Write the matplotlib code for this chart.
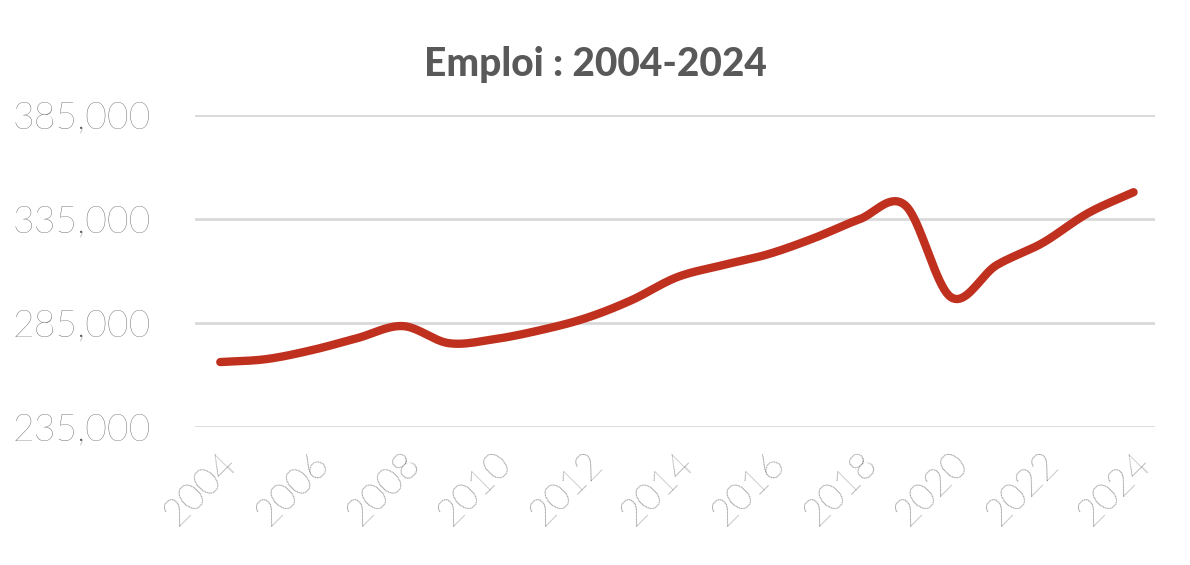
import numpy as np
import matplotlib
matplotlib.use("Agg")
import matplotlib.pyplot as plt
from matplotlib.ticker import FuncFormatter

years = list(range(2004, 2025))
emploi = [266300, 267700, 272000, 277800, 283600, 275400, 277300, 281600, 287400,
          296000, 307100, 312900, 318200, 325900, 335000, 341700, 297500, 312900,
          323500, 337900, 348000]
yticks = [235000, 285000, 335000, 385000]
xticks = list(range(2004, 2025, 2))

def catmull(x, y, n=20):
    x = np.asarray(x, float); y = np.asarray(y, float)
    px = np.concatenate([[2*x[0]-x[1]], x, [2*x[-1]-x[-2]]])
    py = np.concatenate([[2*y[0]-y[1]], y, [2*y[-1]-y[-2]]])
    xs, ys = [], []
    t = np.linspace(0, 1, n, endpoint=False)
    for i in range(1, len(px)-2):
        for p, out in ((px, xs), (py, ys)):
            p0, p1, p2, p3 = p[i-1], p[i], p[i+1], p[i+2]
            out.extend(0.5*((2*p1) + (-p0+p2)*t + (2*p0-5*p1+4*p2-p3)*t**2 + (-p0+3*p1-3*p2+p3)*t**3))
    xs.append(x[-1]); ys.append(y[-1])
    return np.array(xs), np.array(ys)

plt.rcParams['font.family'] = ['Lato', 'DejaVu Sans']
fig = plt.figure(figsize=(11.9, 5.65), dpi=100)
ax = fig.add_axes([0.164, 0.244, 0.807, 0.552])
sx, sy = catmull(years, emploi)
ax.plot(sx, sy, color="#C0301F", lw=6, solid_capstyle="round", zorder=3)
ax.set_ylim(235000, 385000)
ax.set_xlim(2003.45, 2024.48)
ax.set_yticks(yticks)
ax.set_xticks(xticks)
ax.yaxis.set_major_formatter(FuncFormatter(lambda v, p: f"{int(v):,}"))
ax.grid(axis="y", color="#D9D9D9", lw=2)
ax.set_axisbelow(True)
for s in ax.spines.values():
    s.set_visible(False)
ax.tick_params(length=0, labelsize=27, colors="#595959")
ax.tick_params(axis="y", pad=32)
ax.tick_params(axis="x", pad=14)
for lab in ax.get_xticklabels() + ax.get_yticklabels():
    lab.set_fontweight("light")
for lab in ax.get_xticklabels():
    lab.set_rotation(45); lab.set_ha("right"); lab.set_rotation_mode("anchor")
fig.text(0.5, 0.885, "Emploi : 2004-2024", ha="center", va="center",
         fontsize=28, fontweight="black", color="#595959")
fig.savefig("out.png", dpi=100)
